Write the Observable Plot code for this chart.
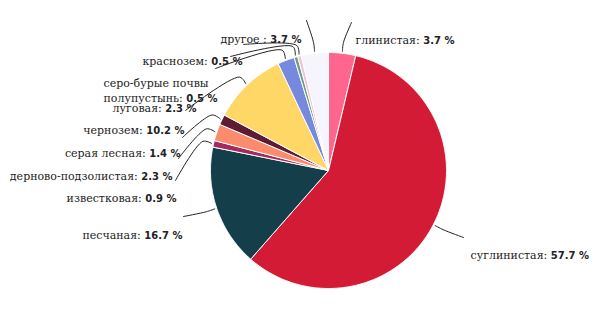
<!DOCTYPE html>
<html><head><meta charset="utf-8">
<script src="https://cdn.jsdelivr.net/npm/d3@7"></script>
<script src="https://cdn.jsdelivr.net/npm/@observablehq/plot@0.6"></script>
<style>body{margin:0;background:#fff} #chart{width:596px;height:309px}</style>
</head><body><div id="chart"></div>
<script>
// ---- data ----
const soils = ["глинистая","суглинистая","песчаная","известковая","дерново-подзолистая","серая лесная","чернозем","луговая","серо-бурые почвы\nполупустынь","краснозем","другое "];
const shares = [3.7,57.7,16.7,0.9,2.3,1.4,10.2,2.3,0.5,0.5,3.7];
const sliceColors = ["#fe668d","#d41b36","#143e4a","#a52a5e","#fb8c6b","#5f1a34","#fed766","#7689dc","#6b9c8c","#f4c4d6","#f7f5fc"];

// ---- layout ----
const W = 596, H = 309, CX = 328, CY = 170, R = 118;
const labelX = [355,470,182,176,172,180,184,196,103,242,301];
const labelY = [39,254,234,197,175,152,129,107,89,60,38];
const labelSide = ["start","start","end","end","end","end","end","end","start","end","end"];
const connX = [351,463,183,175,178,182,185,215,230,243,306];
const connY = [22,237,216,180,158,137,110,68,56,44,20];

const arcs = d3.pie().sort(null)(shares);
const polar = (a, r) => ({x: CX + r * Math.sin(a), y: CY - r * Math.cos(a)});
const slices = arcs.map(a => {
  const n = Math.max(2, Math.ceil((a.endAngle - a.startAngle) / 0.01));
  const pts = [{x: CX, y: CY}];
  for (let k = 0; k <= n; k++) pts.push(polar(a.startAngle + (a.endAngle - a.startAngle) * k / n, R));
  pts.push({x: CX, y: CY});
  return pts;
});
const connectors = arcs.flatMap((a, i) => {
  const m = (a.startAngle + a.endAngle) / 2;
  return [polar(m, R + 2), polar(m, R + 11), {x: connX[i], y: connY[i]}].map(p => ({...p, i}));
});
const labels = soils.map((s, i) => ({text: `${s}: ${shares[i].toFixed(1)} %`, x: labelX[i], y: labelY[i], side: labelSide[i]}));

const textOpts = {x: "x", y: "y", text: "text", lineHeight: 1.4, fontSize: 11, fill: "#222"};
const chart = Plot.plot({
  width: W, height: H, margin: 0,
  x: {domain: [0, W], axis: null},
  y: {domain: [H, 0], axis: null},
  style: {background: "transparent", overflow: "visible"},
  marks: [
    ...slices.map((pts, i) => Plot.line(pts, {x: "x", y: "y", fill: sliceColors[i], stroke: "#fff", strokeWidth: 1})),
    Plot.line(connectors, {x: "x", y: "y", z: "i", stroke: "#222", strokeWidth: 1, curve: "catmull-rom"}),
    Plot.text(labels.filter(d => d.side === "start"), {...textOpts, textAnchor: "start"}),
    Plot.text(labels.filter(d => d.side === "end"), {...textOpts, textAnchor: "end"})
  ]
});
// serif names, bold sans numbers
const NS = "http://www.w3.org/2000/svg";
chart.querySelectorAll("text").forEach(t => {
  t.setAttribute("font-family", "DejaVu Serif");
  t.style.fontFamily = "'DejaVu Serif', serif";
  t.style.fontSize = "11px";
  const tsp = t.querySelectorAll("tspan");
  const target = tsp.length ? tsp[tsp.length - 1] : t;
  const full = target.textContent;
  const idx = full.lastIndexOf(": ");
  if (idx < 0) return;
  target.textContent = full.slice(0, idx + 2);
  const b = document.createElementNS(NS, "tspan");
  b.style.fontWeight = "bold";
  b.style.fontFamily = "'DejaVu Sans', sans-serif";
  b.style.fontSize = "10px";
  b.textContent = full.slice(idx + 2);
  target.appendChild(b);
});
document.getElementById("chart").appendChild(chart);
</script></body></html>
